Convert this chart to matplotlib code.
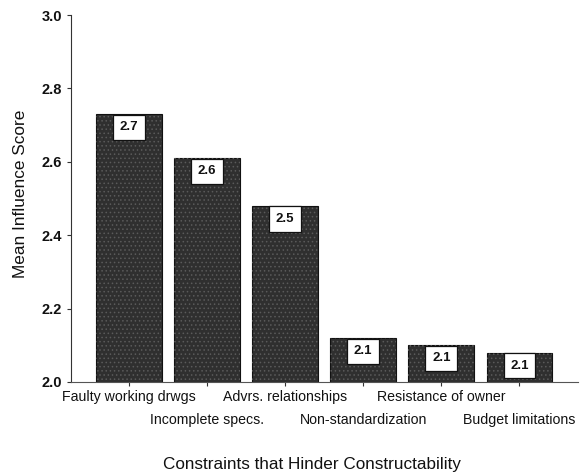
import matplotlib
matplotlib.use("Agg")
import matplotlib.pyplot as plt

# Mean influence scores of constraints that hinder constructability
categories = [
    "Faulty working drwgs",
    "Incomplete specs.",
    "Advrs. relationships",
    "Non-standardization",
    "Resistance of owner",
    "Budget limitations",
]
scores = [2.73, 2.61, 2.48, 2.12, 2.10, 2.08]
y_ticks = [2.0, 2.2, 2.4, 2.6, 2.8, 3.0]

plt.rcParams["font.family"] = ["Liberation Sans", "DejaVu Sans"]

fig = plt.figure(figsize=(5.8, 4.75), dpi=100)
ax = fig.add_axes([0.1224, 0.1958, 0.8742, 0.7726])

x = list(range(len(categories)))
ax.bar(x, [s - 2.0 for s in scores], bottom=2.0, width=0.84,
       color="#2f2f2f", edgecolor="#111111", linewidth=0.8, zorder=2)
# stipple texture over the bars
plt.rcParams["hatch.linewidth"] = 0.6
ax.bar(x, [s - 2.0 for s in scores], bottom=2.0, width=0.84,
       facecolor="none", edgecolor="#5a5a5a", linewidth=0, hatch="....",
       zorder=3)

for xi, s in zip(x, scores):
    ax.annotate(f"{s:.1f}", xy=(xi, s), xytext=(0, -9.5),
                textcoords="offset points", ha="center", va="center",
                fontsize=9.5, fontweight="bold", color="#111111", zorder=5,
                bbox=dict(boxstyle="square,pad=0.5", facecolor="white",
                          edgecolor="#111111", linewidth=0.9))

ax.set_xlim(-0.74, 5.75)
ax.set_ylim(2.0, 3.0)
ax.set_yticks(y_ticks)
ax.set_yticklabels([f"{t:.1f}" for t in y_ticks], fontsize=10.5,
                   fontweight="semibold")
ax.set_xticks(x)
ax.set_xticklabels([])

for xi, name in zip(x, categories):
    yoff = -0.042 if xi % 2 == 0 else -0.104
    ax.text(xi, yoff, name, transform=ax.get_xaxis_transform(),
            ha="center", va="center", fontsize=10.2, color="#111111")

for side in ("top", "right"):
    ax.spines[side].set_visible(False)
ax.spines["left"].set_color("#333333")
ax.spines["bottom"].set_color("#555555")
ax.tick_params(axis="both", direction="out", length=3, width=0.8,
               colors="#333333", labelcolor="#111111")

fig.text(0.035, 1 - 193.5 / 475, "Mean Influence Score", rotation=90,
         ha="center", va="center", fontsize=12.4, color="#111111")
fig.text(312 / 580, 1 - 465 / 475, "Constraints that Hinder Constructability",
         ha="center", va="center", fontsize=12.3, color="#111111")

fig.savefig("out.png", dpi=100)
